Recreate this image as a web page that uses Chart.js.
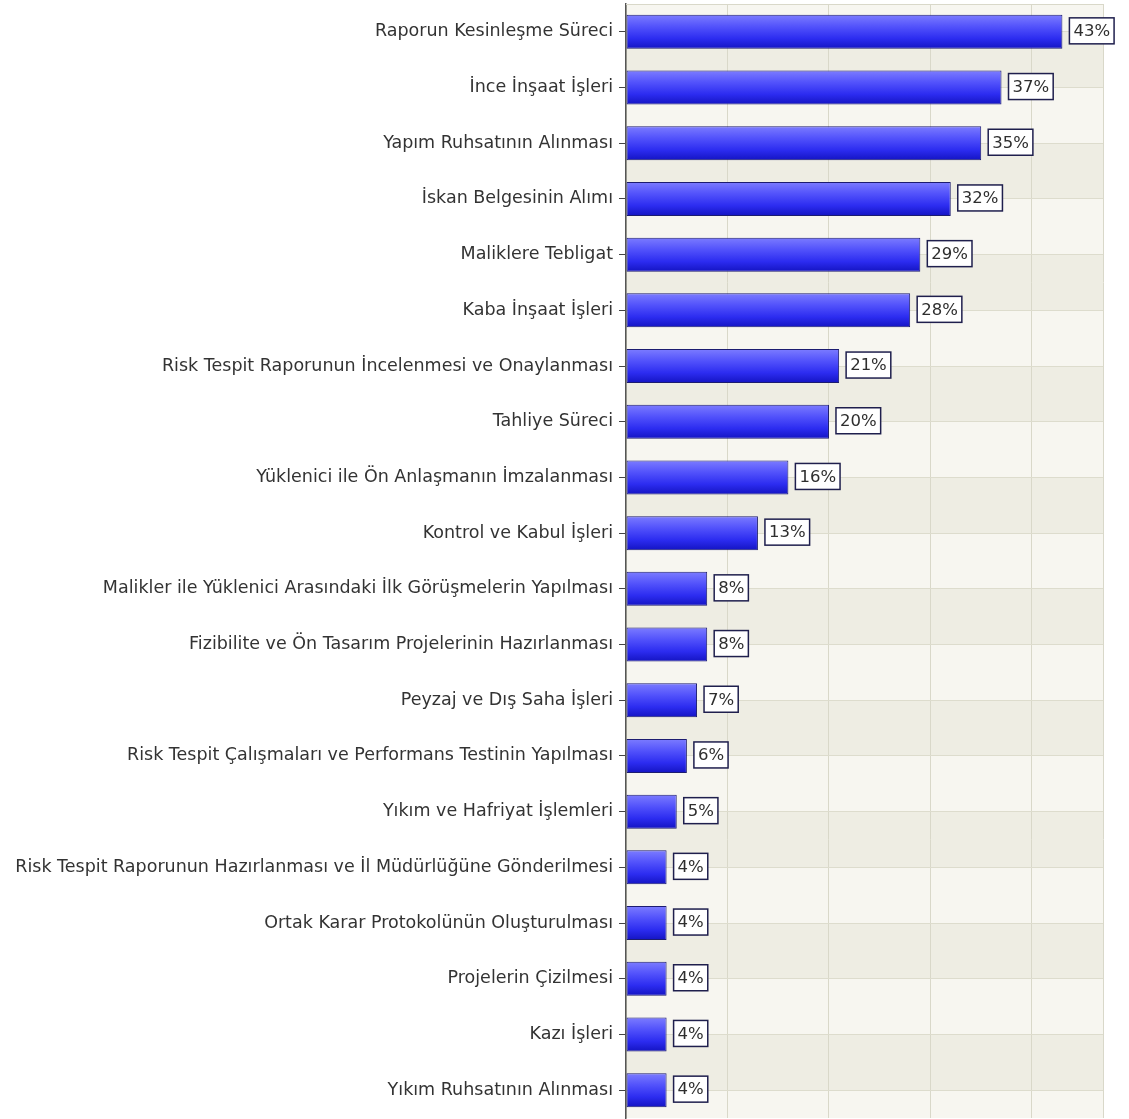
<!DOCTYPE html>
<html>
<head>
<meta charset="utf-8">
<script src="https://cdn.jsdelivr.net/npm/chart.js@4"></script>
<style>
  html, body { margin: 0; padding: 0; background: #ffffff; }
  #wrap { width: 1129px; height: 1119px; }
</style>
</head>
<body>
<div id="wrap"><canvas id="c" width="1129" height="1119"></canvas></div>
<script>
// Stages of the urban transformation process and the share of respondents
const categories = [
  'Raporun Kesinleşme Süreci',
  'İnce İnşaat İşleri',
  'Yapım Ruhsatının Alınması',
  'İskan Belgesinin Alımı',
  'Maliklere Tebligat',
  'Kaba İnşaat İşleri',
  'Risk Tespit Raporunun İncelenmesi ve Onaylanması',
  'Tahliye Süreci',
  'Yüklenici ile Ön Anlaşmanın İmzalanması',
  'Kontrol ve Kabul İşleri',
  'Malikler ile Yüklenici Arasındaki İlk Görüşmelerin Yapılması',
  'Fizibilite ve Ön Tasarım Projelerinin Hazırlanması',
  'Peyzaj ve Dış Saha İşleri',
  'Risk Tespit Çalışmaları ve Performans Testinin Yapılması',
  'Yıkım ve Hafriyat İşlemleri',
  'Risk Tespit Raporunun Hazırlanması ve İl Müdürlüğüne Gönderilmesi',
  'Ortak Karar Protokolünün Oluşturulması',
  'Projelerin Çizilmesi',
  'Kazı İşleri',
  'Yıkım Ruhsatının Alınması'
];
const percentages = [43, 37, 35, 32, 29, 28, 21, 20, 16, 13, 8, 8, 7, 6, 5, 4, 4, 4, 4, 4];
const valueAxisMax = 47;
const valueAxisStep = 10;

const FONT = 'DejaVu Sans';
const BAR_PCT = 0.61;

// Alternating horizontal bands behind the bars, between category centres
const bandsPlugin = {
  id: 'bands',
  beforeDraw(chart) {
    const { ctx, chartArea: a, scales } = chart;
    const ys = scales.y;
    ctx.save();
    ctx.fillStyle = '#f7f6f0';
    ctx.fillRect(a.left, a.top, a.right - a.left, a.bottom - a.top);
    ctx.fillStyle = '#eeede3';
    for (let i = 0; i < categories.length - 1; i += 2) {
      const y0 = ys.getPixelForValue(i);
      const y1 = ys.getPixelForValue(i + 1);
      ctx.fillRect(a.left, y0, a.right - a.left, y1 - y0);
    }
    ctx.restore();
  },
  afterDraw(chart) {
    const { ctx, chartArea: a } = chart;
    ctx.save();
    ctx.strokeStyle = '#d9d8c9';
    ctx.lineWidth = 1;
    ctx.beginPath();
    ctx.moveTo(a.left, a.top + 0.5);
    ctx.lineTo(a.right, a.top + 0.5);
    ctx.stroke();
    ctx.restore();
  }
};

// Boxed percentage labels at the end of each bar
const valueBoxPlugin = {
  id: 'valueBoxes',
  afterDatasetsDraw(chart) {
    const { ctx } = chart;
    const meta = chart.getDatasetMeta(0);
    ctx.save();
    ctx.font = '16.5px "' + FONT + '"';
    ctx.textBaseline = 'middle';
    ctx.textAlign = 'left';
    meta.data.forEach((bar, i) => {
      const text = percentages[i] + '%';
      const tw = ctx.measureText(text).width;
      const bx = bar.x + 7;
      const bh = 26;
      const bw = tw + 8;
      const by = bar.y - bh / 2 - 1;
      ctx.fillStyle = '#ffffff';
      ctx.fillRect(bx, by, bw, bh);
      ctx.strokeStyle = '#1f1f4d';
      ctx.lineWidth = 1.5;
      ctx.strokeRect(bx, by, bw, bh);
      ctx.fillStyle = '#2e2e2e';
      ctx.fillText(text, bx + 4, by + bh / 2 + 1);
    });
    ctx.restore();
  }
};

function barGradient(context) {
  const chart = context.chart;
  const ys = chart.scales && chart.scales.y;
  if (!chart.chartArea || !ys) return '#3a3aff';
  const yc = ys.getPixelForValue(context.dataIndex);
  const h = Math.abs(ys.getPixelForValue(1) - ys.getPixelForValue(0)) * BAR_PCT;
  const g = chart.ctx.createLinearGradient(0, yc - h / 2, 0, yc + h / 2);
  g.addColorStop(0, '#7c7cff');
  g.addColorStop(0.35, '#5252fb');
  g.addColorStop(0.7, '#2c2cf0');
  g.addColorStop(1, '#1414c2');
  return g;
}

new Chart(document.getElementById('c'), {
  type: 'bar',
  data: {
    labels: categories,
    datasets: [{
      data: percentages,
      backgroundColor: barGradient,
      borderColor: '#1c1c70',
      borderWidth: 1,
      borderSkipped: false,
      categoryPercentage: 1,
      barPercentage: BAR_PCT
    }]
  },
  options: {
    indexAxis: 'y',
    responsive: false,
    animation: false,
    layout: { padding: { top: 4, right: 26, bottom: 1, left: 0 } },
    plugins: {
      legend: { display: false },
      tooltip: { enabled: false }
    },
    scales: {
      x: {
        min: 0,
        max: valueAxisMax,
        ticks: { display: false, stepSize: valueAxisStep },
        grid: { color: '#d9d8c9', drawTicks: false, lineWidth: 1 },
        border: { display: false },
        afterFit(s) { s.height = 0; s.paddingLeft = 0; s.paddingRight = 0; }
      },
      y: {
        grid: { offset: false, color: '#dddccd', tickColor: '#444444', tickLength: 7, lineWidth: 1 },
        border: { color: '#555555', width: 1.5 },
        ticks: { color: '#333333', font: { family: FONT, size: 17.5 }, padding: 6, autoSkip: false },
        afterFit(s) { s.width = 626; s.paddingTop = 0; s.paddingBottom = 0; }
      }
    }
  },
  plugins: [bandsPlugin, valueBoxPlugin]
});
</script>
</body>
</html>
